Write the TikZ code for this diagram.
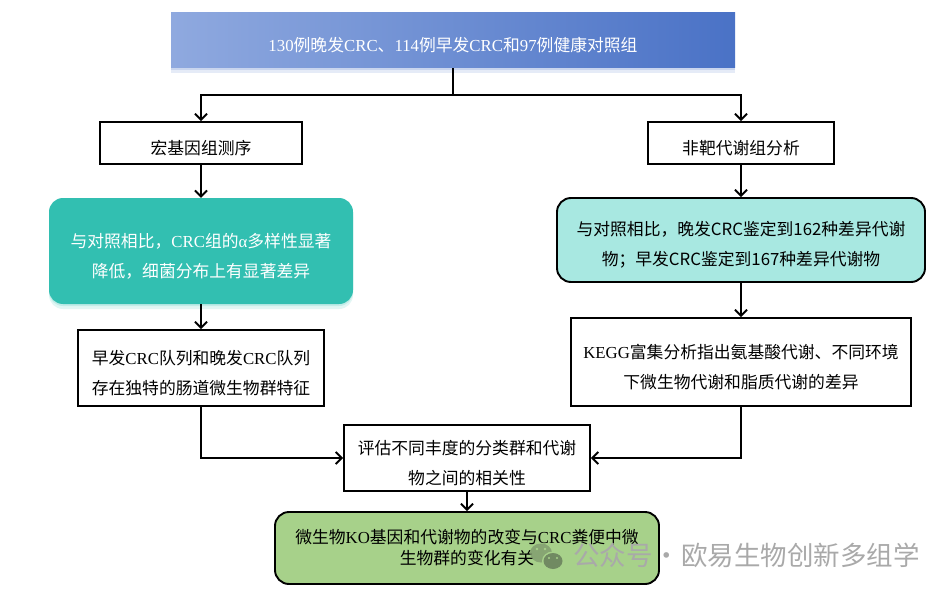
\documentclass[tikz,border=0pt]{standalone}
\usepackage{fontspec}
\usepackage{xcolor}
\setmainfont{Noto Sans CJK SC}
\newfontfamily\latfont{Liberation Serif}
\usetikzlibrary{arrows.meta}
\usetikzlibrary{shadows}
\newcommand\lat[1]{{\latfont #1}}
\newcommand\up{\rule{0pt}{24pt}}
\definecolor{topleft}{HTML}{8FA9DF}
\definecolor{topright}{HTML}{4A72C6}
\definecolor{tealdark}{HTML}{32BFB1}
\definecolor{teallight}{HTML}{A8E8E1}
\definecolor{leafgreen}{HTML}{A7D18A}
\definecolor{markgray}{HTML}{A9A9A9}
\definecolor{markgreen}{HTML}{7F9A6E}
\tikzstyle{flow}=[line width=1.9pt,>/.tip={Straight Barb[length=6pt,width=12pt,line width=1.9pt]},->]
\tikzstyle{txt}=[align=center,font=\fontsize{16.8}{30}\selectfont,inner sep=0pt]
\tikzstyle{plain}=[txt,draw,line width=1.9pt,fill=white]
\tikzstyle{soft}=[txt,rounded corners=14pt]
\tikzstyle{outlined}=[soft,draw,line width=1.9pt]
\tikzstyle{glow}=[drop shadow={shadow xshift=0pt,shadow yshift=-2pt,opacity=.18,fill=#1},drop shadow={shadow xshift=0pt,shadow yshift=-5pt,opacity=.14,fill=#1}]
\tikzstyle{eye}=[fill=leafgreen]
\begin{document}
\begin{tikzpicture}[x=1pt,y=-1pt]
	\useasboundingbox (0,0) rectangle (951,594);
	\node[txt,text=white,left color=topleft,right color=topright,minimum width=564pt,minimum height=55pt,glow=topright] (cohort) at (453,40.5)
		{\up\lat{130}例晚发\lat{CRC}、\lat{114}例早发\lat{CRC}和\lat{97}例健康对照组};
	\node[plain,minimum width=202pt,minimum height=42pt] (meta) at (201,143) {\up 宏基因组测序};
	\node[plain,minimum width=186pt,minimum height=42pt] (untarget) at (741,143) {\up 非靶代谢组分析};
	\node[soft,text=white,fill=tealdark,minimum width=304pt,minimum height=106pt,glow=tealdark] (alpha) at (201,251)
		{\up 与对照相比，\lat{CRC}组的\lat{α}多样性显著\\降低，细菌分布上有显著差异};
	\node[outlined,fill=teallight,minimum width=368pt,minimum height=84pt] (diff) at (741,240)
		{\up 与对照相比，晚发CRC鉴定到162种差异代谢\\物；早发CRC鉴定到167种差异代谢物};
	\node[plain,minimum width=246pt,minimum height=76pt] (early) at (201,368)
		{\up 早发\lat{CRC}队列和晚发\lat{CRC}队列\\存在独特的肠道微生物群特征};
	\node[plain,minimum width=340pt,minimum height=88pt] (kegg) at (741,362)
		{\up\lat{KEGG}富集分析指出氨基酸代谢、不同环境\\下微生物代谢和脂质代谢的差异};
	\node[plain,minimum width=246pt,minimum height=66pt] (corr) at (467,458)
		{\up 评估不同丰度的分类群和代谢\\物之间的相关性};
	\node[outlined,fill=leafgreen,font=\fontsize{16.8}{21}\selectfont,minimum width=384pt,minimum height=72pt] (micro) at (467,548)
		{微生物\lat{KO}基因和代谢物的改变与\lat{CRC}粪便中微\\生物群的变化有关};
	\coordinate (split) at (453,95);
	\draw[line width=1.9pt] (cohort.south) -- (split);
	\draw[flow] (split) -| (meta.north);
	\draw[flow] (split) -| (untarget.north);
	\draw[flow] (meta) -- (alpha);
	\draw[flow] (untarget) -- (diff);
	\draw[flow] (alpha) -- (early);
	\draw[flow] (diff) -- (kegg);
	\draw[flow] (early.south) |- (corr.west);
	\draw[flow] (kegg.south) |- (corr.east);
	\draw[flow] (corr) -- (micro);
	\fill[markgreen,opacity=.8] (541,553) ellipse (11pt and 9.5pt);
	\fill[leafgreen] (553,561) ellipse (11pt and 9.5pt);
	\fill[markgreen!85!black,opacity=.9] (553,561) ellipse (9.5pt and 8pt);
	\fill[eye] (537,549) circle (1.4pt) (545,549) circle (1.4pt) (549,558) circle (1.2pt) (557,558) circle (1.2pt);
	\node[anchor=west,inner sep=0pt,text=markgray,font=\fontsize{26.5}{26.5}\selectfont] (mark) at (573,555)
		{公众号\hspace{1pt}·\hspace{1pt}欧易生物创新多组学};
\end{tikzpicture}
\end{document}
